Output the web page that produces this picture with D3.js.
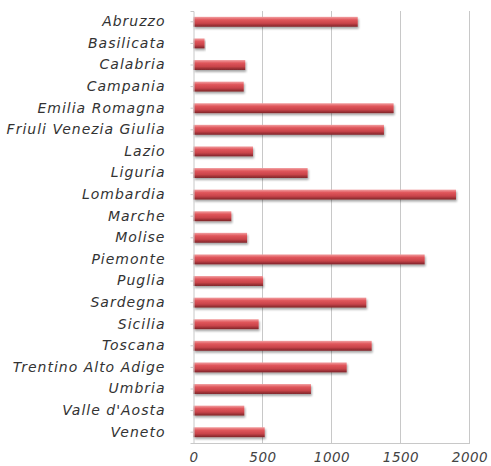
<!DOCTYPE html>
<html><head><meta charset="utf-8">
<script src="https://cdn.jsdelivr.net/npm/d3@7"></script>
<style>
html,body{margin:0;padding:0;background:#fff;}
text{font-family:"DejaVu Sans",sans-serif;font-style:italic;}
</style></head>
<body><svg id="c" width="491" height="466"></svg>
<script>
const categories = ["Abruzzo","Basilicata","Calabria","Campania","Emilia Romagna","Friuli Venezia Giulia","Lazio","Liguria","Lombardia","Marche","Molise","Piemonte","Puglia","Sardegna","Sicilia","Toscana","Trentino Alto Adige","Umbria","Valle d'Aosta","Veneto"];
const values = [1190,80,375,364,1450,1380,431,827,1902,274,388,1675,504,1252,472,1291,1110,851,368,516];
const xTicks = [0,500,1000,1500,2000];

const svg = d3.select("#c");
const x = d3.scaleLinear().domain([0,2000]).range([193.5,469.5]);
const y = d3.scaleBand().domain(categories).range([11,443]).paddingInner(0.54).paddingOuter(0.27);

const defs = svg.append("defs");
const g = defs.append("linearGradient").attr("id","barg").attr("x1",0).attr("y1",0).attr("x2",0).attr("y2",1);
g.append("stop").attr("offset","0%").attr("stop-color","#f2a0a2");
g.append("stop").attr("offset","30%").attr("stop-color","#e0565b");
g.append("stop").attr("offset","65%").attr("stop-color","#c9444a");
g.append("stop").attr("offset","100%").attr("stop-color","#7d2428");
const f = defs.append("filter").attr("id","sh").attr("x","-5%").attr("y","-50%").attr("width","110%").attr("height","220%");
f.append("feGaussianBlur").attr("in","SourceAlpha").attr("stdDeviation",1.2).attr("result","b");
f.append("feOffset").attr("in","b").attr("dx",1).attr("dy",2).attr("result","o");
f.append("feComponentTransfer").attr("in","o").attr("result","o2").append("feFuncA").attr("type","linear").attr("slope",0.35);
const fm = f.append("feMerge");
fm.append("feMergeNode").attr("in","o2");
fm.append("feMergeNode").attr("in","SourceGraphic");

// gridlines
svg.append("g").selectAll("line").data(xTicks.slice(1)).join("line")
  .attr("x1",d=>x(d)).attr("x2",d=>x(d)).attr("y1",11).attr("y2",443)
  .attr("stroke","#c8c8c8").attr("stroke-width",1);

// bars
svg.append("g").selectAll("rect").data(categories).join("rect")
  .attr("x",x(0)).attr("y",d=>y(d)).attr("height",y.bandwidth())
  .attr("width",(d,i)=>x(values[i])-x(0))
  .attr("fill","url(#barg)").attr("filter","url(#sh)");

// axes
const ax = svg.append("g").attr("transform","translate(0,443)")
  .call(d3.axisBottom(x).tickValues(xTicks).tickFormat(d3.format("d")).tickSize(0).tickPadding(9));
ax.select(".domain").attr("stroke","#c8c8c8");
ax.selectAll("text").attr("font-size",13.5).attr("fill","#444").style("font-family","DejaVu Sans").style("font-style","italic").style("letter-spacing","0.5px");

const ay = svg.append("g").attr("transform","translate(193.5,0)")
  .call(d3.axisLeft(y).tickSize(3).tickPadding(25));
ay.select(".domain").attr("stroke","#c8c8c8");
ay.selectAll(".tick line").attr("stroke","#c8c8c8");
ay.selectAll("text").attr("font-size",14).attr("fill","#333").style("font-family","DejaVu Sans").style("font-style","italic").style("letter-spacing","1px");
</script></body></html>
